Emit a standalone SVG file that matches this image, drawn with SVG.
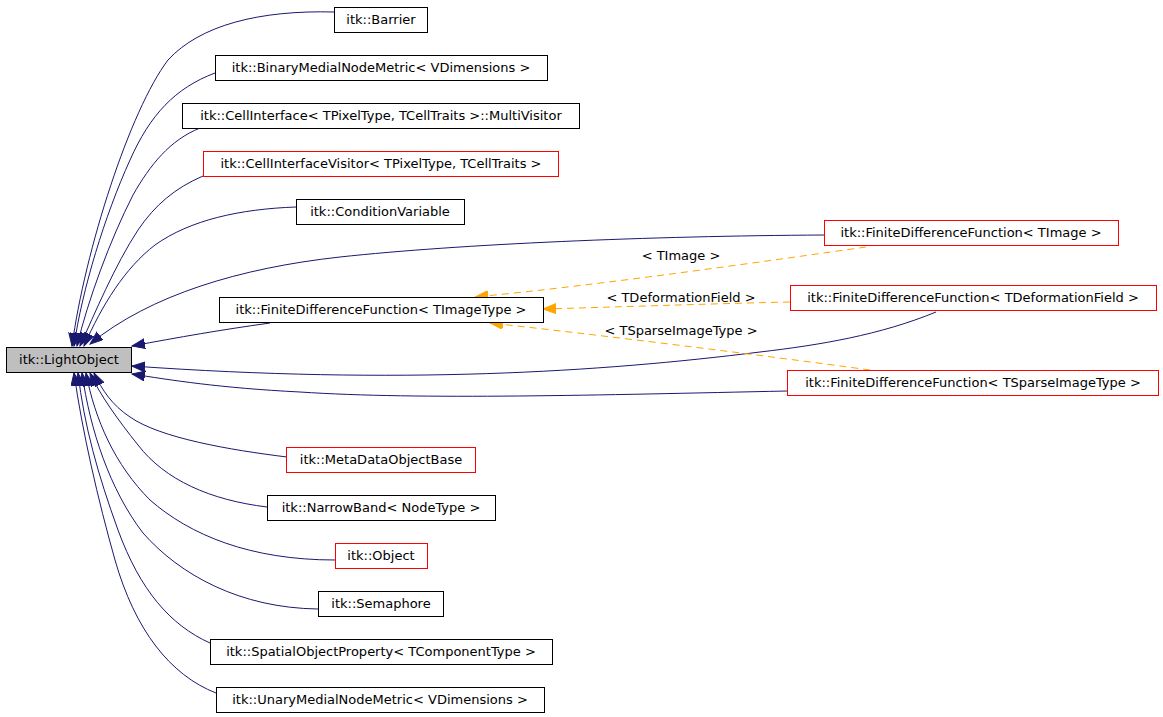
<svg xmlns="http://www.w3.org/2000/svg" width="1163" height="717" viewBox="0 0 1163 717">
<style>
text{font-family:"DejaVu Sans","Liberation Sans",sans-serif;font-size:13px;fill:#000;text-anchor:middle}
.n rect{fill:#fff;stroke:#000;stroke-width:1}
.n.r rect{stroke:#ff0000}
.n.g rect{fill:#bfbfbf}
.e{fill:none;stroke:#191970;stroke-width:1}
.t{fill:none;stroke:#ffa500;stroke-width:1;stroke-dasharray:7,5}
</style>
<defs>
<marker id="ab" markerUnits="userSpaceOnUse" markerWidth="15" markerHeight="12" refX="13" refY="5" orient="auto"><path d="M0,0L13,5L0,10z" fill="#191970" stroke="#191970"/></marker>
<marker id="ao" markerUnits="userSpaceOnUse" markerWidth="15" markerHeight="12" refX="13" refY="5" orient="auto"><path d="M0,0L13,5L0,10z" fill="#ffa500" stroke="#ffa500"/></marker>
</defs>
<rect width="1163" height="717" fill="#fff"/>
<g id="edges">
<path class="e" marker-end="url(#ab)" d="M334,12C260,10 200,25 168,60C130,110 85,250 72,346"/>
<path class="e" marker-end="url(#ab)" d="M215,73C175,88 150,115 130,160C105,215 82,290 74,346"/>
<path class="e" marker-end="url(#ab)" d="M200,128C170,140 150,165 133,195C110,240 88,300 77,346"/>
<path class="e" marker-end="url(#ab)" d="M203,176C175,188 155,205 138,230C115,265 94,315 80,346"/>
<path class="e" marker-end="url(#ab)" d="M296,207C240,209 190,220 155,245C125,268 102,305 84,346"/>
<path class="e" marker-end="url(#ab)" d="M824,235C650,236 460,244 340,257C240,268 150,295 90,344"/>
<path class="e" marker-end="url(#ab)" d="M270,323C220,330 180,337 132,346"/>
<path class="e" marker-end="url(#ab)" d="M936,312C880,335 820,345 760,352C600,372 400,385 132,366"/>
<path class="e" marker-end="url(#ab)" d="M787,391C600,395 420,400 300,392C220,388 170,380 132,374"/>
<path class="e" marker-end="url(#ab)" d="M287,457C230,450 160,438 130,417C112,405 102,390 94,373"/>
<path class="e" marker-end="url(#ab)" d="M267,507C210,500 165,480 138,445C118,420 100,395 90,373"/>
<path class="e" marker-end="url(#ab)" d="M335,560C250,560 190,535 150,500C115,465 95,420 86,373"/>
<path class="e" marker-end="url(#ab)" d="M318,609C240,608 180,575 143,533C110,490 90,430 82,373"/>
<path class="e" marker-end="url(#ab)" d="M210,643C170,625 140,590 118,530C98,475 84,425 78,373"/>
<path class="e" marker-end="url(#ab)" d="M216,693C170,675 135,630 115,560C98,500 82,430 74,373"/>
<path class="t" marker-end="url(#ao)" d="M866,247C760,262 600,285 475,297"/>
<path class="t" marker-end="url(#ao)" d="M790,302C700,304 620,307 543,309"/>
<path class="t" marker-end="url(#ao)" d="M870,370C760,355 600,335 490,323"/>
<text x="681" y="260">&lt; TImage &gt;</text>
<text x="681" y="302">&lt; TDeformationField &gt;</text>
<text x="681" y="335">&lt; TSparseImageType &gt;</text>
</g>
<g id="LightObject" class="n g"><rect x="6.5" y="347.5" width="125" height="25"/><text x="69" y="364">itk::LightObject</text></g>
<g id="Barrier" class="n"><rect x="334.5" y="7.5" width="93" height="25"/><text x="381" y="24">itk::Barrier</text></g>
<g id="BinaryMedialNodeMetric" class="n"><rect x="215.5" y="55.5" width="332" height="25"/><text x="381" y="72">itk::BinaryMedialNodeMetric&lt; VDimensions &gt;</text></g>
<g id="MultiVisitor" class="n"><rect x="182.5" y="103.5" width="397" height="25"/><text x="381" y="120">itk::CellInterface&lt; TPixelType, TCellTraits &gt;::MultiVisitor</text></g>
<g id="CellInterfaceVisitor" class="n r"><rect x="203.5" y="151.5" width="355" height="25"/><text x="381" y="168">itk::CellInterfaceVisitor&lt; TPixelType, TCellTraits &gt;</text></g>
<g id="ConditionVariable" class="n"><rect x="296.5" y="199.5" width="168" height="25"/><text x="380" y="216">itk::ConditionVariable</text></g>
<g id="FDF_TImage" class="n r"><rect x="824.5" y="220.5" width="294" height="25"/><text x="971" y="237">itk::FiniteDifferenceFunction&lt; TImage &gt;</text></g>
<g id="FDF_TImageType" class="n"><rect x="219.5" y="297.5" width="324" height="25"/><text x="381" y="314">itk::FiniteDifferenceFunction&lt; TImageType &gt;</text></g>
<g id="FDF_TDeformationField" class="n r"><rect x="790.5" y="285.5" width="366" height="25"/><text x="973" y="302">itk::FiniteDifferenceFunction&lt; TDeformationField &gt;</text></g>
<g id="FDF_TSparseImageType" class="n r"><rect x="787.5" y="370.5" width="371" height="25"/><text x="973" y="387">itk::FiniteDifferenceFunction&lt; TSparseImageType &gt;</text></g>
<g id="MetaDataObjectBase" class="n r"><rect x="286.5" y="447.5" width="189" height="25"/><text x="381" y="464">itk::MetaDataObjectBase</text></g>
<g id="NarrowBand" class="n"><rect x="267.5" y="495.5" width="228" height="25"/><text x="381" y="512">itk::NarrowBand&lt; NodeType &gt;</text></g>
<g id="Object" class="n r"><rect x="335.5" y="543.5" width="92" height="25"/><text x="381" y="560">itk::Object</text></g>
<g id="Semaphore" class="n"><rect x="318.5" y="591.5" width="125" height="25"/><text x="381" y="608">itk::Semaphore</text></g>
<g id="SpatialObjectProperty" class="n"><rect x="210.5" y="639.5" width="342" height="25"/><text x="381" y="656">itk::SpatialObjectProperty&lt; TComponentType &gt;</text></g>
<g id="UnaryMedialNodeMetric" class="n"><rect x="216.5" y="687.5" width="328" height="25"/><text x="380" y="704">itk::UnaryMedialNodeMetric&lt; VDimensions &gt;</text></g>
</svg>
